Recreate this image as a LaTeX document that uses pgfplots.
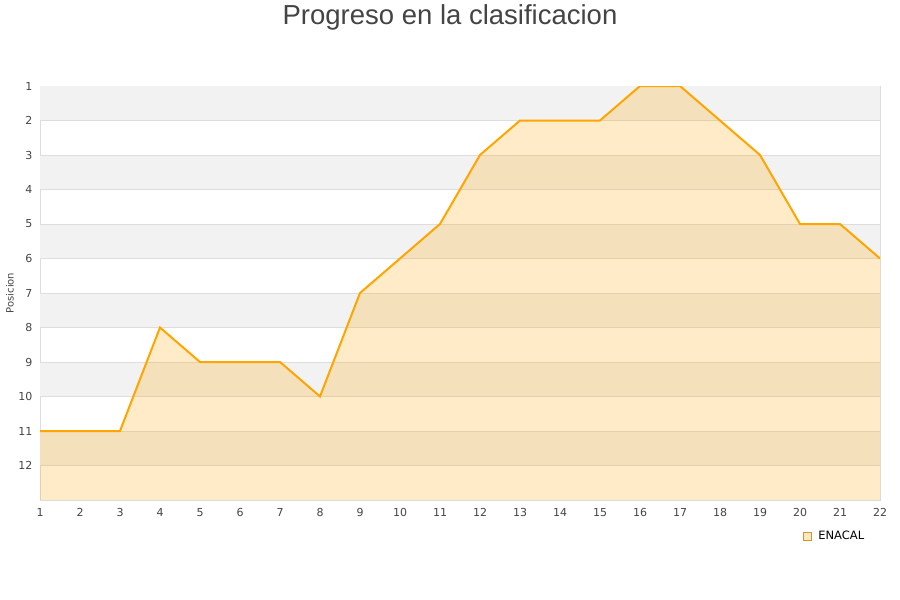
\documentclass[border=0pt]{standalone}
\usepackage{pgfplots}
\pgfplotsset{compat=1.18}
\usepackage{fontspec}
\setmainfont{DejaVu Sans}
\newfontfamily\titlefont{Liberation Sans}
\definecolor{lineorange}{HTML}{FFA500}
\definecolor{band}{HTML}{F2F2F2}
\definecolor{gridc}{HTML}{DDDDDD}
\definecolor{txt}{HTML}{444444}

\begin{document}
\begin{tikzpicture}[x=1pt,y=1pt]
\path[use as bounding box] (0,0) rectangle (900,600);
\node[font=\titlefont\fontsize{27.5}{31}\selectfont, text=txt] at (450,583) {Progreso en la clasificacion};
\node[font=\fontsize{10}{12}\selectfont, text=txt, rotate=90] at (10,307) {Posicion};
\begin{axis}[
  at={(40pt,100pt)}, anchor=south west,
  scale only axis, width=840pt, height=414pt,
  xmin=1, xmax=22, ymin=1, ymax=13,
  y dir=reverse,
  xtick={1,...,22}, ytick={1,...,12},
  axis line style={draw=gridc},
  major tick style={draw=none},
  tick label style={font=\fontsize{11}{13}\selectfont, text=txt},
  yticklabel style={xshift=-4pt},
  xticklabel style={yshift=-5pt},
  /pgf/number format/assume math mode=true,
  legend style={at={(0.946,-0.087)}, anchor=center, draw=none, fill=none,
    font=\fontsize{11.5}{13}\selectfont},
  legend cell align=left,
]
\fill[band] (axis cs:1,1) rectangle (axis cs:22,2);
\fill[band] (axis cs:1,3) rectangle (axis cs:22,4);
\fill[band] (axis cs:1,5) rectangle (axis cs:22,6);
\fill[band] (axis cs:1,7) rectangle (axis cs:22,8);
\fill[band] (axis cs:1,9) rectangle (axis cs:22,10);
\fill[band] (axis cs:1,11) rectangle (axis cs:22,12);
\pgfplotsinvokeforeach{2,...,12}{
  \draw[gridc, line width=0.8pt] (axis cs:1,#1) -- (axis cs:22,#1);
}
\addplot[draw=none, fill=lineorange, fill opacity=0.22, forget plot] coordinates {
(1,13) (1,11) (2,11) (3,11) (4,8) (5,9) (6,9) (7,9) (8,10) (9,7) (10,6) (11,5)
(12,3) (13,2) (14,2) (15,2) (16,1) (17,1) (18,2) (19,3) (20,5) (21,5) (22,6) (22,13)
};
\addplot[lineorange, line width=2pt, forget plot] coordinates {
(1,11) (2,11) (3,11) (4,8) (5,9) (6,9) (7,9) (8,10) (9,7) (10,6) (11,5)
(12,3) (13,2) (14,2) (15,2) (16,1) (17,1) (18,2) (19,3) (20,5) (21,5) (22,6)
};
\addlegendimage{legend image code/.code={
  \draw[draw=lineorange!60!gray, fill=lineorange!25, line width=0.6pt] (0pt,-4pt) rectangle (8pt,4pt);
  \path[draw=none, fill=none] (0pt,-4pt) rectangle (13pt,4pt);}}
\addlegendentry{ENACAL}
\end{axis}
\end{tikzpicture}
\end{document}
